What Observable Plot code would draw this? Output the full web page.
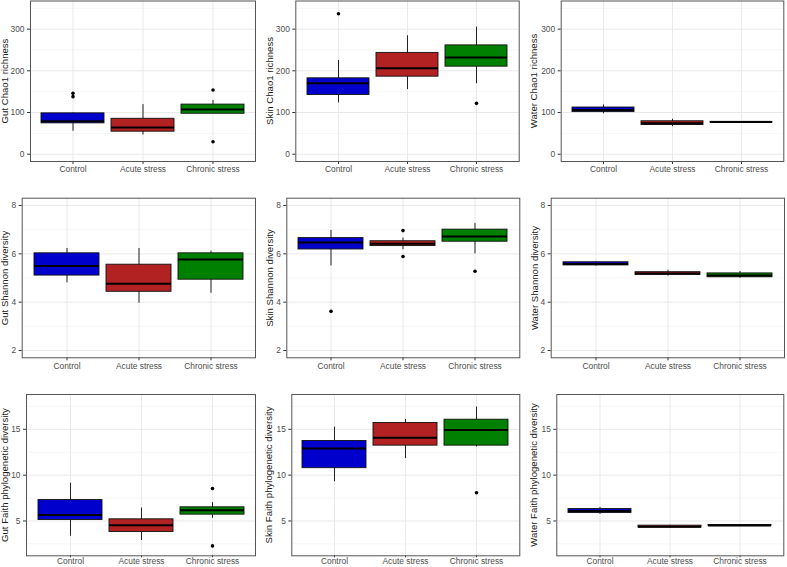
<!DOCTYPE html>
<html>
<head>
<meta charset="utf-8">
<script src="https://cdn.jsdelivr.net/npm/d3@7"></script>
<script src="https://cdn.jsdelivr.net/npm/@observablehq/plot@0.6"></script>
<style>
  html, body { margin: 0; padding: 0; background: #fff; }
  #chart { position: relative; width: 787px; height: 567px; overflow: hidden; background: #fff; }
  .ytitle { position: absolute; white-space: nowrap; font-family: "Liberation Sans", Arial, sans-serif;
            font-size: 9.6px; color: #1a1a1a; transform: translate(-50%, -50%) rotate(-90deg); line-height: 1; }
</style>
</head>
<body>
<div id="chart"></div>
<script>
// ---------------- data ----------------
const groups = ["Control", "Acute stress", "Chronic stress"];
const fills = ["#0000CD", "#B22222", "#008000"];

// per group: [lower whisker, Q1, median, Q3, upper whisker]
const gutChao1 = [[55, 74, 79, 98, 99], [46, 54, 64, 85, 119], [97, 97, 107, 119, 129]];
const gutChao1Outliers = [["Control", 146], ["Control", 138], ["Chronic stress", 154], ["Chronic stress", 30]];
const skinChao1 = [[123, 142, 170, 182, 225], [155, 186, 206, 243, 284], [169, 210, 232, 261, 305]];
const skinChao1Outliers = [["Control", 337], ["Chronic stress", 122]];
const waterChao1 = [[97, 101, 106, 112, 118], [66, 70, 74, 79, 84], [76, 76, 77, 77.6, 78]];
const waterChao1Outliers = [];

const gutShannon = [[4.80, 5.10, 5.50, 6.02, 6.22], [3.96, 4.43, 4.76, 5.55, 6.22], [4.37, 4.93, 5.76, 6.02, 6.11]];
const gutShannonOutliers = [];
const skinShannon = [[5.50, 6.18, 6.47, 6.65, 6.97], [6.17, 6.32, 6.42, 6.52, 6.65], [6.00, 6.50, 6.72, 7.00, 7.26]];
const skinShannonOutliers = [["Control", 3.62], ["Acute stress", 6.96], ["Acute stress", 5.89], ["Chronic stress", 5.28]];
const waterShannon = [[5.49, 5.52, 5.58, 5.65, 5.68], [5.08, 5.13, 5.19, 5.24, 5.32], [4.99, 5.03, 5.10, 5.19, 5.27]];
const waterShannonOutliers = [];

const gutFaith = [[3.33, 5.11, 5.65, 7.28, 9.13], [2.86, 3.80, 4.53, 5.18, 6.41], [5.29, 5.69, 6.16, 6.49, 7.00]];
const gutFaithOutliers = [["Chronic stress", 8.55], ["Chronic stress", 2.28]];
const skinFaith = [[9.28, 10.76, 12.90, 13.73, 15.25], [11.81, 13.22, 14.09, 15.69, 16.09], [13.08, 13.22, 14.93, 16.05, 17.43]];
const skinFaithOutliers = [["Chronic stress", 8.08]];
const waterFaith = [[5.72, 5.87, 6.09, 6.30, 6.49], [4.25, 4.28, 4.38, 4.49, 4.52], [4.44, 4.46, 4.50, 4.56, 4.58]];
const waterFaithOutliers = [];

const chao1Ticks = [0, 100, 200, 300];
const chao1Minor = [50, 150, 250, 350];
const shannonTicks = [2, 4, 6, 8];
const shannonMinor = [3, 5, 7];
const faithTicks = [5, 10, 15];
const faithMinor = [2.5, 7.5, 12.5, 17.5];

const titles = [
  "Gut Chao1 richness", "Skin Chao1 richness", "Water Chao1 richness",
  "Gut Shannon diversity", "Skin Shannon diversity", "Water Shannon diversity",
  "Gut Faith phylogenetic diversity", "Skin Faith phylogenetic diversity", "Water Faith phylogenetic diversity"
];

// ---------------- layout ----------------
const cols = [[0, 262], [262, 524], [524, 787]];
const rows = [[0, 183], [183, 375], [375, 567]];
const frames = [
  [30, 255, 0.5, 161], [295.3, 518.7, 0.5, 161], [560.7, 783.3, 0.5, 161],
  [21.7, 255, 197.7, 357.3], [286.3, 519.3, 197.7, 357.3], [550.7, 784, 197.7, 357.3],
  [26, 255, 394, 555.3], [291.3, 519.3, 394, 555.3], [556.3, 783.3, 394, 555.3]
];
const titleX = [5, 270, 534, 5, 270, 535, 5, 269, 534];

const panels = [
  {stats: gutChao1, out: gutChao1Outliers, domain: [-17.5, 367.5], ticks: chao1Ticks, minor: chao1Minor},
  {stats: skinChao1, out: skinChao1Outliers, domain: [-17.5, 367.5], ticks: chao1Ticks, minor: chao1Minor},
  {stats: waterChao1, out: waterChao1Outliers, domain: [-17.5, 367.5], ticks: chao1Ticks, minor: chao1Minor},
  {stats: gutShannon, out: gutShannonOutliers, domain: [1.7, 8.3], ticks: shannonTicks, minor: shannonMinor},
  {stats: skinShannon, out: skinShannonOutliers, domain: [1.7, 8.3], ticks: shannonTicks, minor: shannonMinor},
  {stats: waterShannon, out: waterShannonOutliers, domain: [1.7, 8.3], ticks: shannonTicks, minor: shannonMinor},
  {stats: gutFaith, out: gutFaithOutliers, domain: [1.2, 18.8], ticks: faithTicks, minor: faithMinor},
  {stats: skinFaith, out: skinFaithOutliers, domain: [1.2, 18.8], ticks: faithTicks, minor: faithMinor},
  {stats: waterFaith, out: waterFaithOutliers, domain: [1.2, 18.8], ticks: faithTicks, minor: faithMinor}
];

const chart = document.getElementById("chart");

panels.forEach((p, i) => {
  const r = Math.floor(i / 3);
  const [cx0, cx1] = cols[i % 3];
  const [cy0, cy1] = rows[r];
  const [fl, fr, ft, fb] = frames[i];
  const rowsData = p.stats.map((s, k) => ({
    group: groups[k], low: s[0], q1: s[1], med: s[2], q3: s[3], high: s[4], fill: fills[k]
  }));
  const outs = p.out.map(([g, v]) => ({group: g, value: v}));
  const lastRow = r === 2;

  const svg = Plot.plot({
    width: cx1 - cx0,
    height: cy1 - cy0,
    marginLeft: fl - cx0,
    marginRight: cx1 - fr,
    marginTop: ft - cy0,
    marginBottom: cy1 - fb,
    style: {fontFamily: "'Liberation Sans', Arial, sans-serif", fontSize: "8.4px", color: "#4d4d4d", background: "#fff", overflow: "visible"},
    x: {domain: groups, paddingInner: 0.1, paddingOuter: 0.15, label: null},
    y: {domain: p.domain, label: null},
    marks: [
      Plot.ruleY(p.minor, {stroke: "#f0f0f0", strokeWidth: 0.6}),
      Plot.ruleY(p.ticks, {stroke: "#e6e6e6", strokeWidth: 0.9}),
      Plot.ruleX(groups, {stroke: "#e6e6e6", strokeWidth: 0.9}),
      Plot.ruleX(rowsData, {x: "group", y1: "low", y2: "high", stroke: "#222", strokeWidth: 1}),
      Plot.barY(rowsData, {x: "group", y1: "q1", y2: "q3", fill: "fill", stroke: "#111", strokeWidth: 0.9}),
      Plot.tickY(rowsData, {x: "group", y: "med", stroke: "#000", strokeWidth: 2}),
      Plot.dot(outs, {x: "group", y: "value", r: 1.8, fill: "#000", stroke: null}),
      Plot.axisY({ticks: p.ticks, tickFormat: d => String(d), tickSize: 3, tickPadding: 3, label: null, stroke: "#333"}),
      Plot.axisX({tickSize: lastRow ? 2 : 3, tickPadding: lastRow ? 0.5 : 2, label: null, stroke: "#333"}),
      Plot.frame({stroke: "#555", strokeWidth: 1})
    ]
  });
  svg.style.position = "absolute";
  svg.style.left = cx0 + "px";
  svg.style.top = cy0 + "px";
  chart.appendChild(svg);

  const t = document.createElement("div");
  t.className = "ytitle";
  t.textContent = titles[i];
  t.style.left = titleX[i] + "px";
  t.style.top = ((ft + fb) / 2) + "px";
  chart.appendChild(t);
});
</script>
</body>
</html>
